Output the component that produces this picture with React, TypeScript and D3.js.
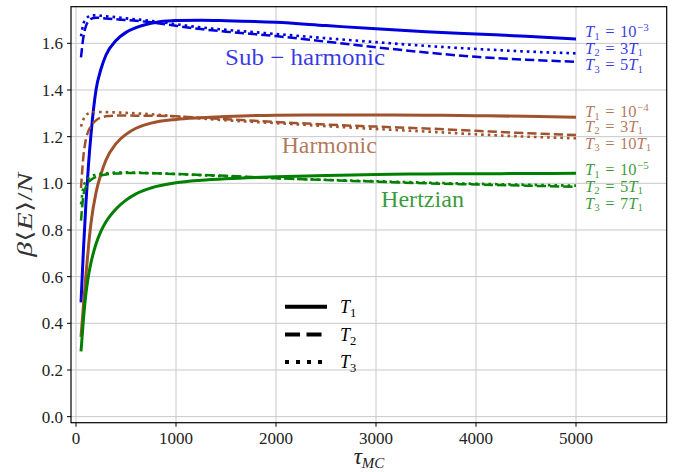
import React from "react";
import * as d3 from "d3";

// ---- data ----
const tau = [50, 75, 100, 125, 150, 200, 250, 300, 400, 500, 600, 750, 1000, 1250, 1500, 2000, 2500, 3000, 3500, 4000, 4500, 5000];

const subT1 = [0.49, 0.72, 0.92, 1.08, 1.21, 1.4, 1.49, 1.55, 1.612, 1.647, 1.667, 1.686, 1.698, 1.699, 1.697, 1.69, 1.676, 1.662, 1.65, 1.64, 1.63, 1.619];
const subT2 = [1.54, 1.63, 1.675, 1.695, 1.705, 1.71, 1.709, 1.706, 1.703, 1.7, 1.697, 1.69, 1.675, 1.661, 1.65, 1.631, 1.607, 1.583, 1.561, 1.542, 1.53, 1.521];
const subT3 = [1.63, 1.685, 1.705, 1.715, 1.72, 1.72, 1.718, 1.716, 1.712, 1.707, 1.703, 1.696, 1.682, 1.668, 1.658, 1.64, 1.622, 1.605, 1.589, 1.576, 1.565, 1.557];

const harT1 = [0.342, 0.48, 0.61, 0.73, 0.83, 0.96, 1.04, 1.1, 1.17, 1.21, 1.236, 1.258, 1.274, 1.281, 1.286, 1.292, 1.293, 1.293, 1.292, 1.29, 1.287, 1.283];
const harT2 = [0.98, 1.12, 1.19, 1.225, 1.245, 1.27, 1.282, 1.287, 1.29, 1.291, 1.29, 1.29, 1.287, 1.281, 1.275, 1.263, 1.252, 1.243, 1.235, 1.225, 1.215, 1.207];
const harT3 = [1.243, 1.275, 1.292, 1.3, 1.303, 1.306, 1.306, 1.305, 1.304, 1.302, 1.3, 1.296, 1.287, 1.278, 1.27, 1.258, 1.245, 1.233, 1.222, 1.21, 1.2, 1.193];

const herT1 = [0.28, 0.42, 0.53, 0.605, 0.66, 0.74, 0.795, 0.835, 0.89, 0.928, 0.955, 0.98, 1.002, 1.013, 1.02, 1.028, 1.033, 1.038, 1.04, 1.041, 1.042, 1.043];
const herT2 = [0.84, 0.95, 0.985, 1.005, 1.015, 1.028, 1.034, 1.038, 1.042, 1.044, 1.044, 1.043, 1.04, 1.036, 1.032, 1.022, 1.014, 1.007, 1.0, 0.995, 0.99, 0.985];
const herT3 = [0.91, 0.985, 1.01, 1.022, 1.03, 1.037, 1.041, 1.043, 1.046, 1.047, 1.046, 1.044, 1.04, 1.035, 1.03, 1.022, 1.015, 1.009, 1.003, 0.998, 0.994, 0.99];

const xTicks = [0, 1000, 2000, 3000, 4000, 5000];
const yTicks = [0, 0.2, 0.4, 0.6, 0.8, 1.0, 1.2, 1.4, 1.6];

const systemNames = ["Sub \u2212 harmonic", "Harmonic", "Hertzian"];
// right-hand labels: [T-index, rhs main, rhs superscript, rhs trailing T-index]
const rightLabels = [
  [["1", "10", "\u22123", ""], ["2", "3", "", "1"], ["3", "5", "", "1"]],
  [["1", "10", "\u22124", ""], ["2", "3", "", "1"], ["3", "10", "", "1"]],
  [["1", "10", "\u22125", ""], ["2", "5", "", "1"], ["3", "7", "", "1"]],
];
const legendLabels = ["1", "2", "3"];

// ---- layout / style ----
const W = 684;
const H = 472;
const AX = { left: 71, right: 666.7, top: 6.7, bottom: 422.7 };
const COLORS = ["#0000dd", "#a0522d", "#008000"];
const FONT = "'Liberation Serif', 'DejaVu Serif', serif";
const STYLES = [
  { dash: null, width: 3 },
  { dash: "9.25,4", width: 2.5 },
  { dash: "2.6,4", width: 2.6 },
];
// annotation anchor positions in data coords
const namePos = [
  [1490, 1.506, 160],
  [2057, 1.128, 95],
  [3050, 0.899, 83],
];
const rightLabelX = 5090;
const rightLabelY = [
  [1.627, 1.556, 1.484],
  [1.284, 1.22, 1.149],
  [1.035, 0.963, 0.892],
];

export default function App() {
  const x = d3.scaleLinear().domain([-50, 5907]).range([AX.left, AX.right]);
  const y = d3.scaleLinear().domain([-0.026, 1.757]).range([AX.bottom, AX.top]);

  const series = [
    [subT1, subT2, subT3],
    [harT1, harT2, harT3],
    [herT1, herT2, herT3],
  ];

  const line = d3
    .line<number>()
    .x((_, i) => x(tau[i]))
    .y((d) => y(d))
    .curve(d3.curveMonotoneX);

  const fmt = d3.format(".1f");

  const legX0 = 285;
  const legX1 = 327;
  const legY = [306.7, 334.5, 362];

  return (
    <svg
      width={W}
      height={H}
      style={{ position: "absolute", left: 0, top: 0, display: "block", background: "#fff" }}
      fontFamily={FONT}
    >
      <defs>
        <clipPath id="ax">
          <rect x={AX.left} y={AX.top} width={AX.right - AX.left} height={AX.bottom - AX.top} />
        </clipPath>
      </defs>
      <rect x={0} y={0} width={W} height={H} fill="#fff" />
      {/* grid */}
      <g stroke="#c8c8c8" strokeWidth={1}>
        {xTicks.map((t) => (
          <line key={"gx" + t} x1={x(t)} x2={x(t)} y1={AX.top} y2={AX.bottom} />
        ))}
        {yTicks.map((t) => (
          <line key={"gy" + t} x1={AX.left} x2={AX.right} y1={y(t)} y2={y(t)} />
        ))}
      </g>

      {/* curves */}
      <g clipPath="url(#ax)" fill="none">
        {series.map((grp, gi) =>
          grp.map((vals, si) => (
            <path
              key={gi + "-" + si}
              d={line(vals) || ""}
              stroke={COLORS[gi]}
              strokeWidth={STYLES[si].width}
              strokeDasharray={STYLES[si].dash || undefined}
              strokeLinecap="butt"
              strokeLinejoin="round"
            />
          ))
        )}
      </g>

      {/* system names */}
      {systemNames.map((s, i) => (
        <text
          key={s}
          x={x(namePos[i][0])}
          y={y(namePos[i][1])}
          fill={COLORS[i]}
          fillOpacity={0.78}
          fontSize={23}
          textLength={namePos[i][2]}
          lengthAdjust="spacingAndGlyphs"
        >
          {s}
        </text>
      ))}

      {/* right labels */}
      {rightLabels.map((grp, gi) =>
        grp.map((lab, li) => (
          <text
            key={"rl" + gi + li}
            x={x(rightLabelX)}
            y={y(rightLabelY[gi][li])}
            fill={COLORS[gi]}
            fillOpacity={0.78}
            fontSize={16.5}
          >
            <tspan fontStyle="italic">T</tspan>
            <tspan fontSize={11} dy={2.5}>{lab[0]}</tspan>
            <tspan dy={-2.5}>{"\u2004=\u2004" + lab[1]}</tspan>
            {lab[2] ? (
              <tspan fontSize={11} dy={-6} dx={0.5}>{lab[2]}</tspan>
            ) : null}
            {lab[3] ? (
              <>
                <tspan fontStyle="italic">T</tspan>
                <tspan fontSize={11} dy={2.5}>{lab[3]}</tspan>
              </>
            ) : null}
          </text>
        ))
      )}

      {/* legend */}
      {legendLabels.map((l, i) => (
        <g key={"lg" + l}>
          <line
            x1={legX0}
            x2={legX1}
            y1={legY[i]}
            y2={legY[i]}
            stroke="#000"
            strokeWidth={4}
            strokeDasharray={i === 1 ? "15,6.5" : i === 2 ? "4,7" : undefined}
          />
          <text x={340} y={legY[i] + 6} fontSize={18} fill="#000">
            <tspan fontStyle="italic">T</tspan>
            <tspan fontSize={12.5} dy={4}>{l}</tspan>
          </text>
        </g>
      ))}

      {/* spines */}
      <rect
        x={AX.left}
        y={AX.top}
        width={AX.right - AX.left}
        height={AX.bottom - AX.top}
        fill="none"
        stroke="#000"
        strokeWidth={1.2}
      />

      {/* x ticks */}
      {xTicks.map((t) => (
        <g key={"xt" + t}>
          <line x1={x(t)} x2={x(t)} y1={AX.bottom} y2={AX.bottom + 4} stroke="#000" strokeWidth={1} />
          <text x={x(t)} y={444} textAnchor="middle" fontSize={17} fill="#222">
            {String(t)}
          </text>
        </g>
      ))}
      {/* y ticks */}
      {yTicks.map((t) => (
        <g key={"yt" + t}>
          <line x1={AX.left - 4} x2={AX.left} y1={y(t)} y2={y(t)} stroke="#000" strokeWidth={1} />
          <text x={AX.left - 8} y={y(t) + 6} textAnchor="end" fontSize={17} fill="#222">
            {fmt(t)}
          </text>
        </g>
      ))}

      {/* axis labels */}
      <text x={369} y={464} textAnchor="middle" fontSize={23} fill="#222">
        <tspan fontStyle="italic">{"\u03c4"}</tspan>
        <tspan fontSize={15} dy={4} fontStyle="italic">MC</tspan>
      </text>
      <text
        transform={`translate(32, ${(AX.top + AX.bottom) / 2}) rotate(-90)`}
        textAnchor="middle"
        fontSize={21}
        fill="#333"
        textLength={84}
        lengthAdjust="spacingAndGlyphs"
      >
        <tspan fontStyle="italic">{"\u03b2"}</tspan>
        <tspan>{"\u27e8"}</tspan>
        <tspan fontStyle="italic">E</tspan>
        <tspan>{"\u27e9/"}</tspan>
        <tspan fontStyle="italic">N</tspan>
      </text>
    </svg>
  );
}
